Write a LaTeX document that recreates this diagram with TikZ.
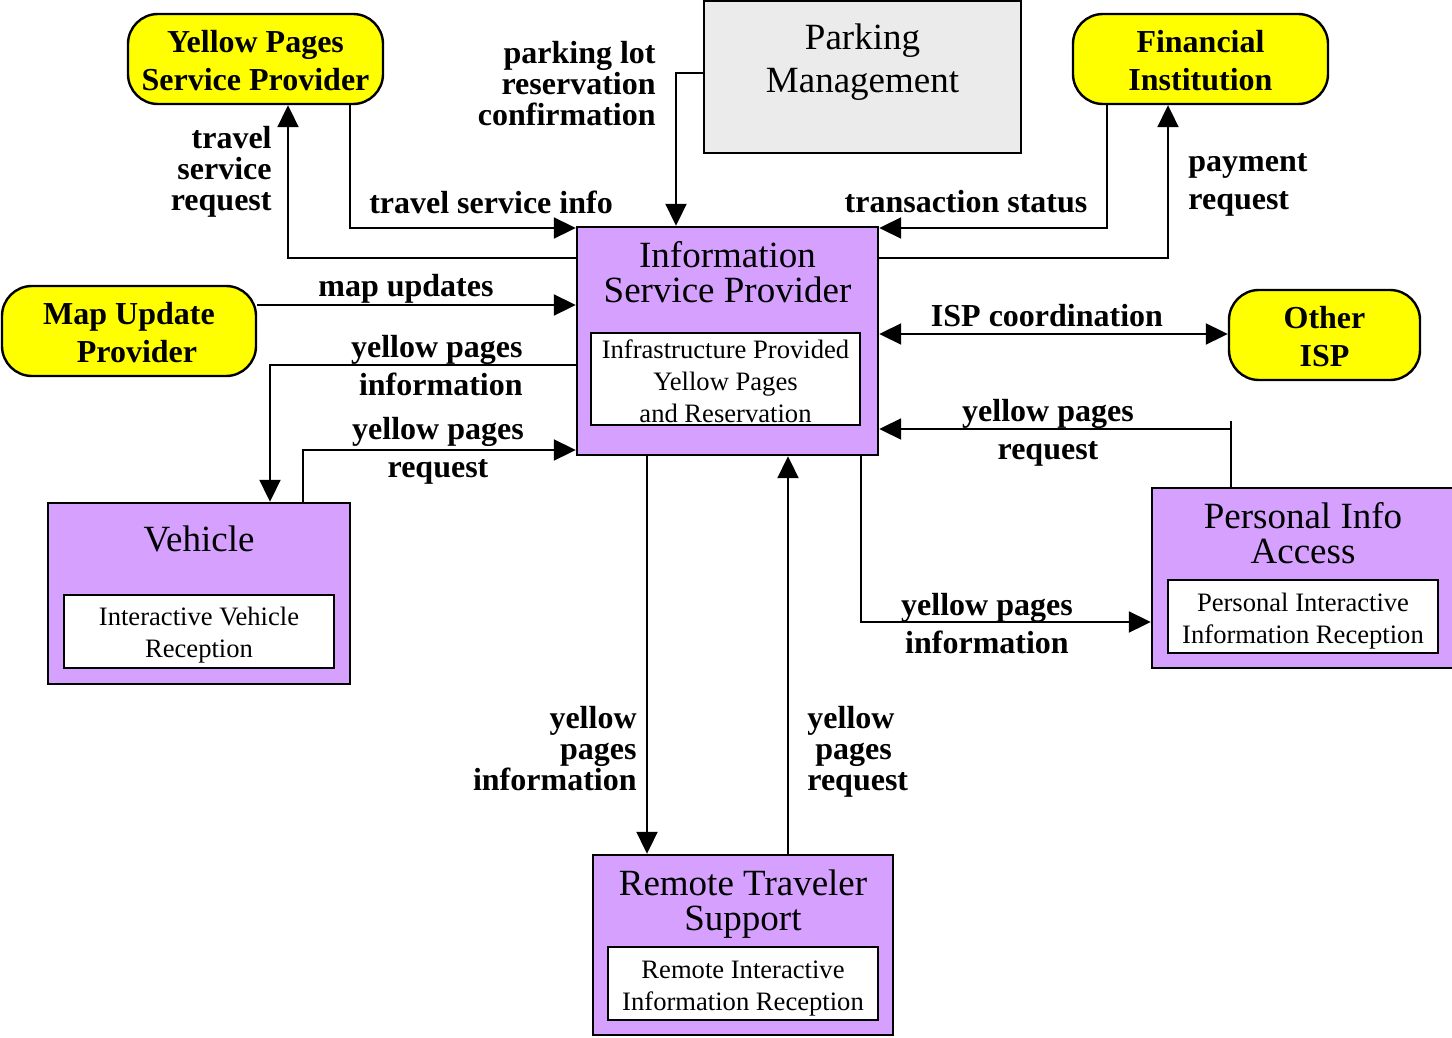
\documentclass[tikz,border=0pt]{standalone}
\usepackage{fontspec}
\setmainfont{Liberation Serif}
\usetikzlibrary{arrows.meta}
\definecolor{lav}{RGB}{214,160,255}
\definecolor{ylw}{RGB}{255,255,0}
\definecolor{pmgray}{RGB}{235,235,235}

\begin{document}
\begin{tikzpicture}[x=0.5pt,y=-0.5pt,
  extbox/.style={draw, line width=1.2pt, fill=ylw, rounded corners=15pt, align=center,
    font=\fontsize{16}{19}\selectfont\bfseries, inner sep=0,
    minimum width=127.5pt, minimum height=45pt},
  subsys/.style={draw, line width=1.2pt, fill=lav, inner sep=0},
  inbox/.style={draw, line width=1.2pt, fill=white, inner sep=0,
    minimum width=135pt, minimum height=36.5pt},
  intext/.style={align=center, inner sep=0, font=\fontsize{13.3}{16}\selectfont},
  ttl/.style={align=center, inner sep=0, font=\fontsize{18.5}{17.5}\selectfont},
  lbl/.style={inner sep=0, font=\fontsize{16}{15.5}\selectfont\bfseries},
  lblwide/.style={inner sep=0, font=\fontsize{16}{19}\selectfont\bfseries},
  flow/.style={line width=1pt, -{Triangle[length=11pt,width=10.5pt]}},
  flowboth/.style={line width=1pt, {Triangle[length=11pt,width=10.5pt]}-{Triangle[length=11pt,width=10.5pt]}}
]
\useasboundingbox (0,0) rectangle (1452,1038);

% terminators
\node[extbox] (yp) at (255.5,59) {};
\node[extbox, draw=none, fill=none] (yptext) at (255.5,60.5) {Yellow Pages\\Service Provider};
\node[extbox] (fi) at (1200.5,59) {};
\node[extbox, draw=none, fill=none] (fitext) at (1200.5,60.5) {Financial\\Institution};
\node[extbox, minimum width=127pt] (mup) at (129,331) {};
\node[extbox, draw=none, fill=none] (muptext) at (129,332.5) {Map Update\\\hspace{8pt}Provider};
\node[extbox, minimum width=95.5pt] (oisp) at (1324.5,335) {};
\node[extbox, draw=none, fill=none] (oisptext) at (1324.5,336.5) {Other\\ISP};

% parking management
\node[draw, line width=1.2pt, fill=pmgray, minimum width=158.5pt, minimum height=76pt] (pm) at (862.5,77) {};
\node[ttl, font=\fontsize{18.5}{21.5}\selectfont] (pmname) at (862.5,62) {Parking\\Management};

% information service provider
\node[subsys, minimum width=150.5pt, minimum height=114pt] (isp) at (727.5,341) {};
\node[ttl] (ispname) at (727.5,272.5) {Information\\Service Provider};
\node[inbox, minimum width=134.5pt, minimum height=46pt] (ispsub) at (725.5,379) {};
\node[intext] (ispsubtext) at (725.5,381.5) {Infrastructure Provided\\Yellow Pages\\and Reservation};

% vehicle
\node[subsys, minimum width=151pt, minimum height=90.5pt] (veh) at (199,593.5) {};
\node[ttl] (vehname) at (199,539) {Vehicle};
\node[inbox] (vehsub) at (199,631.5) {};
\node[intext] (vehsubtext) at (199,635.5) {Interactive Vehicle\\Reception};

% personal info access
\node[subsys, minimum width=150.5pt, minimum height=90pt] (pia) at (1302.5,578) {};
\node[ttl] (pianame) at (1303,533) {Personal Info\\Access};
\node[inbox] (piasub) at (1303,616.5) {};
\node[intext] (piasubtext) at (1303,621.5) {Personal Interactive\\Information Reception};

% remote traveler support
\node[subsys, minimum width=150pt, minimum height=90pt] (rts) at (743,945) {};
\node[ttl] (rtsname) at (743,904) {Remote Traveler\\Support};
\node[inbox] (rtssub) at (743,983.5) {};
\node[intext] (rtssubtext) at (743,988.5) {Remote Interactive\\Information Reception};

% flows
\draw[flow] (isp.west |- 0,258) -| (288,0 |- yp.south);
\draw[flow] (350,0 |- yp.south) |- (isp.west |- 0,228);
\draw[flow] (pm.west |- 0,73) -| (676,0 |- isp.north);
\draw[flow] (1107,0 |- fi.south) |- (isp.east |- 0,228);
\draw[flow] (isp.east |- 0,258) -| (1168,0 |- fi.south);
\draw[flow] (mup.east |- 0,305) -- (isp.west |- 0,305);
\draw[flow] (isp.west |- 0,365) -| (270,0 |- veh.north);
\draw[flow] (303,0 |- veh.north) |- (isp.west |- 0,450);
\draw[flowboth] (isp.east |- 0,334) -- (oisp.west |- 0,334);
\coordinate (tick) at (1231,421);
\draw[line width=1pt] (tick |- pia.north) -- (tick);
\draw[flow] (tick |- 0,429) -- (isp.east |- 0,429);
\draw[flow] (861,0 |- isp.south) |- (pia.west |- 0,622);
\draw[flow] (647,0 |- isp.south) -- (647,0 |- rts.north);
\draw[flow] (788,0 |- rts.north) -- (788,0 |- isp.south);

% flow labels
\node[lbl, anchor=east, align=right] (l1) at (272,172) {travel\\service\\request};
\node[lbl] (l2) at (491,202) {travel service info};
\node[lbl, anchor=east, align=right] (l3) at (656,83.5) {parking lot\\reservation\\confirmation};
\node[lbl] (l4) at (966,202) {transaction status};
\node[lblwide, anchor=west, align=left] (l5) at (1188,185) {payment\\request};
\node[lbl] (l6) at (406,289) {map updates};
\node[lblwide, anchor=east, align=right] (l7) at (523,366) {yellow pages\\information};
\node[lblwide, align=center] (l8) at (438,451) {yellow pages\\request};
\node[lbl] (l9) at (1047,316) {ISP coordination};
\node[lblwide, align=center] (l10) at (1048,432.5) {yellow pages\\request};
\node[lblwide, align=center] (l11) at (987,623.5) {yellow pages\\information};
\node[lbl, anchor=east, align=right] (l12) at (637,748.5) {yellow\\pages\\information};
\node[lbl, anchor=west, align=left] (l13) at (807,751.5) {yellow\\\hspace{4pt}pages\\request};
\end{tikzpicture}
\end{document}
